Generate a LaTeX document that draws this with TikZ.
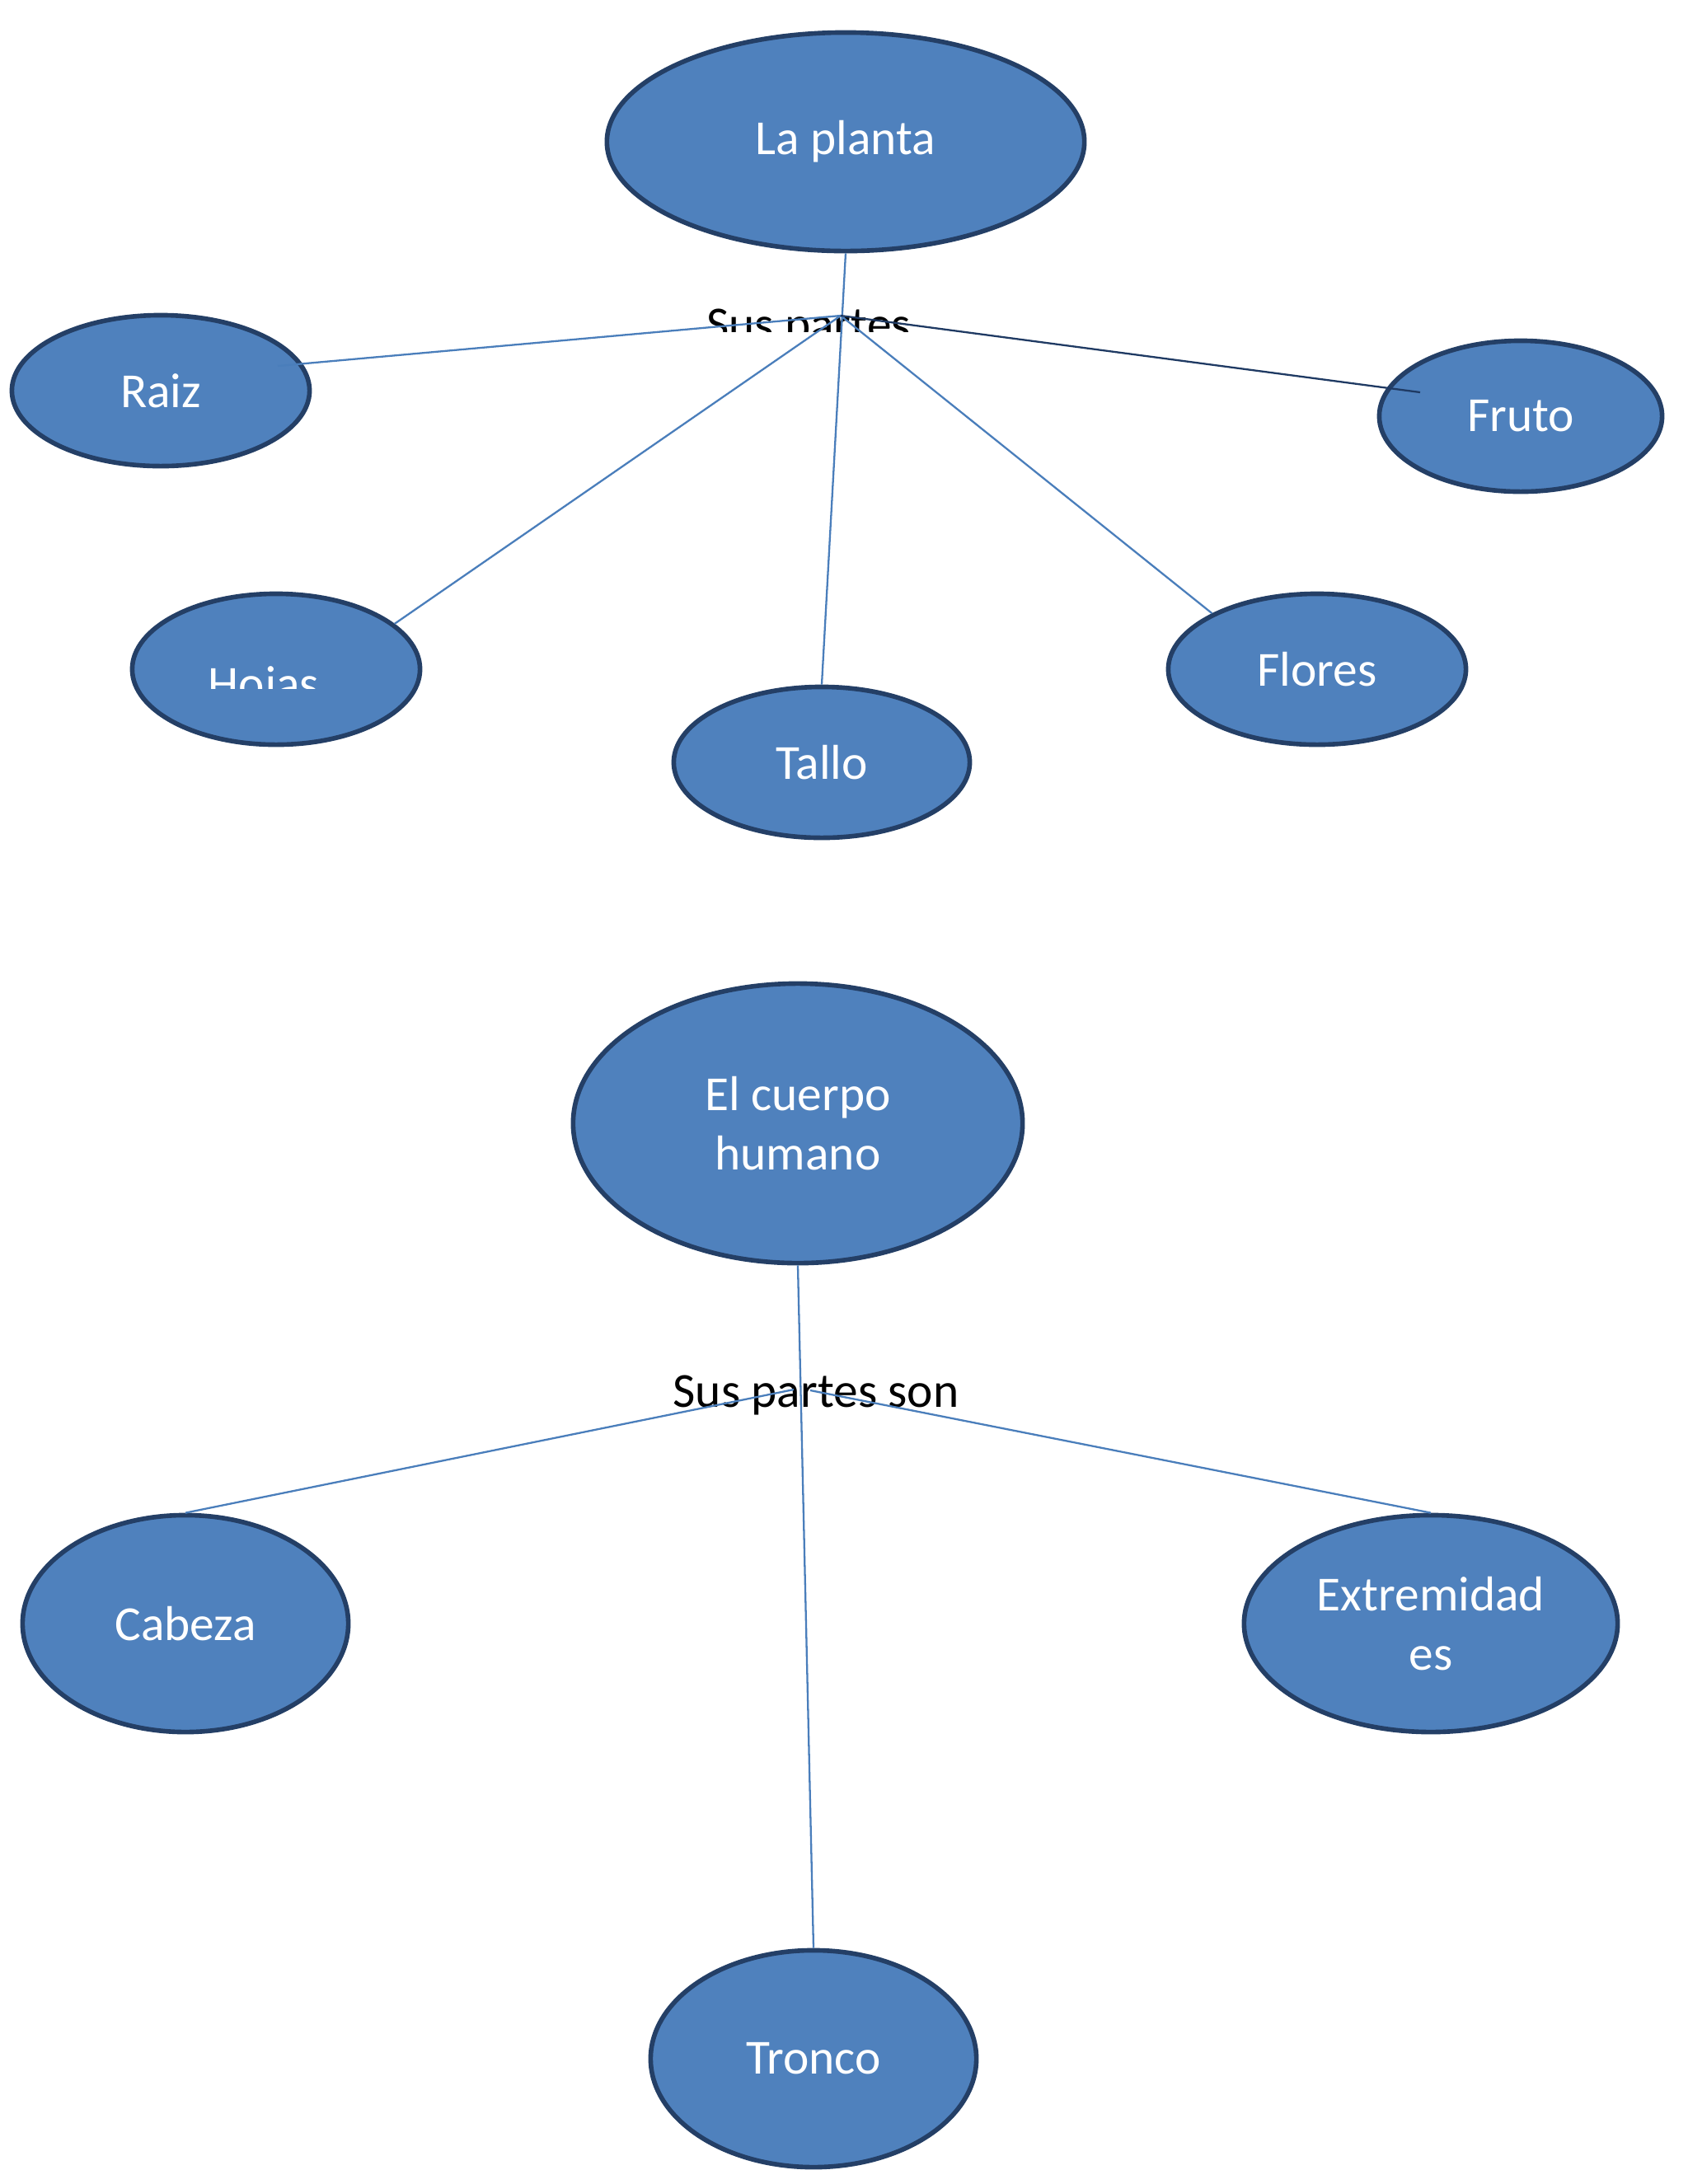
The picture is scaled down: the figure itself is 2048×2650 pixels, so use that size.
\documentclass[tikz,border=0pt]{standalone}
\usepackage{fontspec}
\setmainfont{Carlito}
\usetikzlibrary{shapes.geometric}
\definecolor{partfill}{HTML}{4F81BD}
\definecolor{partedge}{HTML}{243F66}
\definecolor{linkblue}{HTML}{4A7EBB}
\definecolor{linknavy}{HTML}{1F3A63}
\begin{document}
\begin{tikzpicture}[x=0.01cm,y=-0.01cm,every node/.style={font=\fontsize{16.9}{20.5}\selectfont},part/.style={ellipse,draw=partedge,fill=partfill,line width=1.6pt,text=white,inner sep=0pt,align=center},link/.style={linkblue,line width=0.65pt}]
\useasboundingbox[fill=white] (0,0) rectangle (2048,2650);
% la planta
\node[part,minimum width=5.79cm,minimum height=2.65cm] (planta) at (1026,172) {La planta};
\node[part,minimum width=3.61cm,minimum height=1.83cm] (raiz) at (195,474) {Raiz};
\node[part,minimum width=3.43cm,minimum height=1.83cm] (fruto) at (1845,505) {Fruto};
\node[part,minimum width=3.49cm,minimum height=1.83cm] (hojas) at (335,812) {};
\node[part,minimum width=3.59cm,minimum height=1.83cm] (tallo) at (997,925) {Tallo};
\node[part,minimum width=3.61cm,minimum height=1.83cm] (flores) at (1598,812) {Flores};
\begin{scope}\clip (200,760) rectangle (480,835);\node[anchor=base,text=white] (hojaslbl) at (320,849) {Hojas};\end{scope}
\begin{scope}\clip (700,340) rectangle (1300,402);\node[anchor=base] (sus) at (981,413) {Sus partes};\end{scope}
\coordinate (hub) at (1020,383);\coordinate (raizend) at (337,444);\coordinate (frutoend) at (1723,476);
\draw[link] (planta.south)--(tallo.north);\draw[link] (raizend)--(hub);\draw[link] (hojas.21)--(hub);\draw[link] (hub)--(flores.152);
\draw[link,linknavy] (hub)--(frutoend);
% el cuerpo humano
\node[part,minimum width=5.45cm,minimum height=3.39cm] (cuerpo) at (968,1363) {El cuerpo\\humano};
\node[part,minimum width=3.95cm,minimum height=2.63cm] (cabeza) at (225,1970) {Cabeza};
\node[part,minimum width=4.53cm,minimum height=2.63cm] (extremidades) at (1736,1970) {Extremidad\\es};
\node[part,minimum width=3.95cm,minimum height=2.63cm] (tronco) at (987,2498) {Tronco};
\node[anchor=base] (susson) at (990,1707) {Sus partes son};
\coordinate (hubl) at (963,1686);\coordinate (hubr) at (983,1687);
\draw[link] (cuerpo.south)--(tronco.north);\draw[link] (cabeza.north)--(hubl);\draw[link] (hubr)--(extremidades.north);
\end{tikzpicture}
\end{document}
